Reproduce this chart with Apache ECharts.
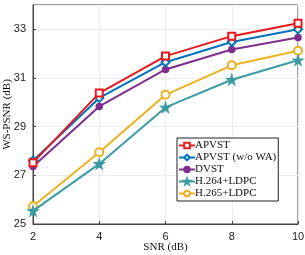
<!DOCTYPE html>
<html><head><meta charset="utf-8">
<script src="https://cdn.jsdelivr.net/npm/echarts@6/dist/echarts.min.js"></script>
<style>html,body{margin:0;padding:0;background:#fff}#c{width:305px;height:255px}</style>
</head><body><div id="c"></div>
<script>
var snr = [2, 4, 6, 8, 10];
var apvst = [27.52, 30.38, 31.90, 32.72, 33.25];
var apvstNoWA = [27.60, 30.18, 31.65, 32.48, 33.00];
var dvst = [27.36, 29.83, 31.35, 32.17, 32.66];
var h264 = [25.54, 27.47, 29.79, 30.93, 31.73];
var h265 = [25.73, 27.95, 30.31, 31.52, 32.12];
var names = ['APVST', 'APVST (w/o WA)', 'DVST', 'H.264+LDPC', 'H.265+LDPC'];
var colors = ['#E8191C', '#0072BD', '#7E2F8E', '#3A9CA3', '#EDB120'];
var star = 'path://M50,0 L61,35 L98,35 L68,57 L79,91 L50,70 L21,91 L32,57 L2,35 L39,35 Z';
var symbols = ['emptyRect', 'emptyDiamond', 'circle', star, 'emptyCircle'];
var sizes = [7, 8, 6, 9, 8];
var seriesData = [apvst, apvstNoWA, dvst, h264, h265];

function pairs(arr){ return snr.map(function(x,i){ return [x, arr[i]]; }); }

var series = seriesData.map(function(d, i){
  return {
    name: names[i], type: 'line', data: pairs(d),
    symbol: symbols[i], symbolSize: sizes[i],
    lineStyle: {width: 2, color: colors[i]},
    itemStyle: {color: colors[i], borderWidth: 1.5, borderColor: colors[i]},
    z: 10 - i
  };
});

var chart = echarts.init(document.getElementById('c'), null, {renderer: 'canvas'});
chart.setOption({
  animation: false,
  color: colors,
  grid: {left: 33, right: 7, top: 5, bottom: 31, show: true, borderColor: '#444', borderWidth: 1,
         containLabel: false, outerBoundsMode: 'none'},
  legend: {
    data: names, orient: 'vertical', left: 177, top: 138,
    backgroundColor: '#fff', borderColor: '#222', borderWidth: 1,
    padding: [2, 2, 2, 1], itemGap: 1, itemWidth: 16, itemHeight: 7,
    textStyle: {fontFamily: 'Liberation Serif', fontSize: 11, color: '#111', padding: [0,0,0,-5]}
  },
  xAxis: {
    type: 'value', min: 2, max: 10, interval: 2,
    name: 'SNR (dB)', nameLocation: 'middle', nameGap: 18, nameMoveOverlap: false,
    nameTextStyle: {fontFamily: 'Liberation Serif', fontSize: 11, color: '#111'},
    axisLine: {lineStyle: {color: '#444'}},
    axisTick: {inside: true, length: 3, lineStyle: {color: '#444'}},
    axisLabel: {fontFamily: 'Liberation Sans', fontSize: 11, color: '#222', margin: 7},
    splitLine: {show: true, lineStyle: {color: '#ececec', width: 1}}
  },
  yAxis: {
    type: 'value', min: 25, max: 34, interval: 2,
    name: 'WS-PSNR (dB)', nameLocation: 'middle', nameGap: 20, nameMoveOverlap: false,
    nameTextStyle: {fontFamily: 'Liberation Serif', fontSize: 11, color: '#111'},
    axisLine: {show: true, lineStyle: {color: '#444'}},
    axisTick: {show: true, inside: true, length: 3, lineStyle: {color: '#444'}},
    axisLabel: {fontFamily: 'Liberation Sans', fontSize: 11, color: '#222', margin: 7, showMaxLabel: false},
    splitLine: {show: true, lineStyle: {color: '#ececec', width: 1}}
  },
  series: series
});
</script></body></html>
